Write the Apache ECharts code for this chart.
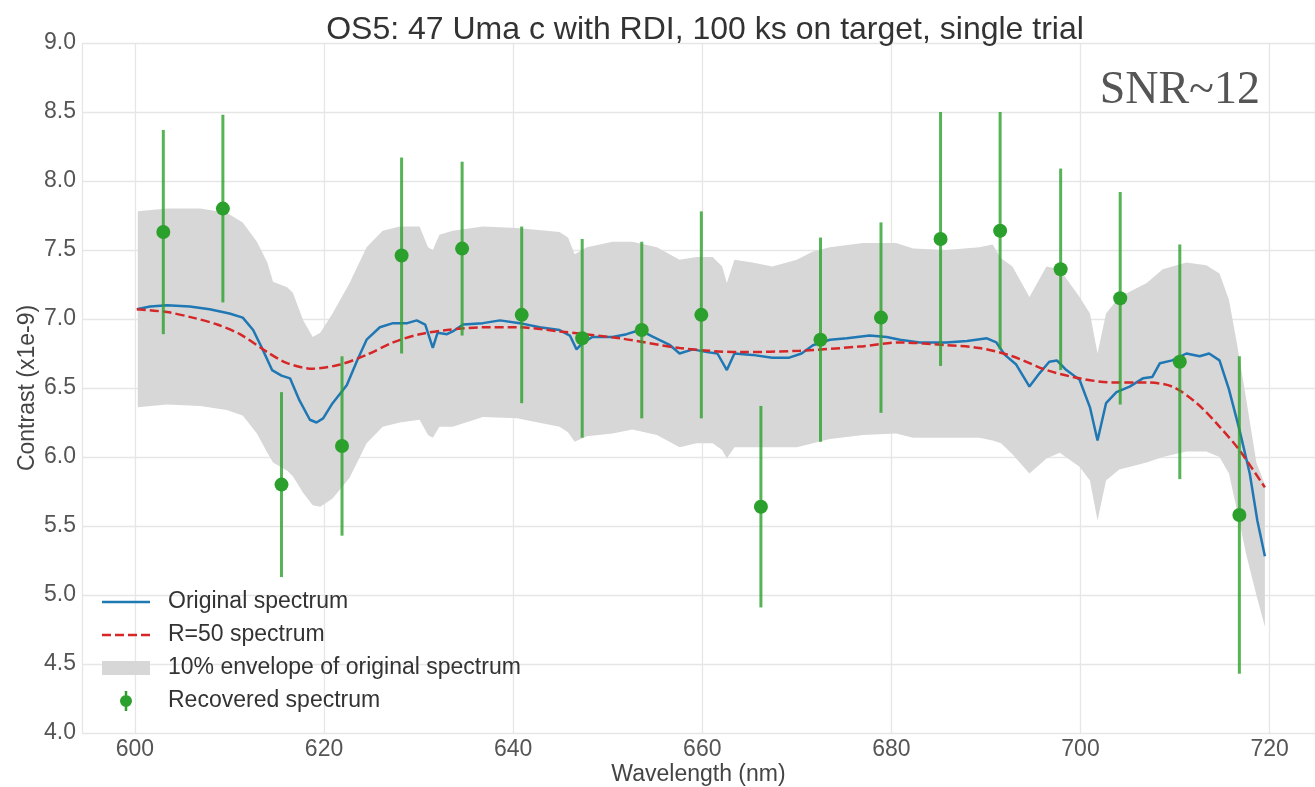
<!DOCTYPE html>
<html>
<head>
<meta charset="utf-8">
<title>OS5: 47 Uma c with RDI</title>
<script src="https://cdn.jsdelivr.net/npm/echarts@6/dist/echarts.min.js"></script>
<style>
  html, body { margin: 0; padding: 0; background: #fff; }
  #main { width: 1315px; height: 787px; }
</style>
</head>
<body>
<div id="main"></div>
<script>
// original spectrum (blue)
var origX = [600.2, 601.6, 603.4, 605.8, 607.9, 610.0, 611.4, 612.5, 613.5, 614.5, 615.5, 616.4, 617.4, 618.5, 619.2, 619.9, 620.9, 622.4, 623.5, 624.5,
  625.9, 627.3, 628.8, 629.8, 630.7, 631.5, 632.0, 633.0, 633.6, 634.7, 636.8, 638.6, 640.7, 642.8, 644.9, 646.0, 646.7, 647.4, 648.4, 650.5,
  652.0, 653.4, 654.8, 656.6, 657.6, 659.0, 660.5, 661.6, 662.6, 663.4, 665.3, 667.4, 669.2, 670.5, 671.7, 673.5, 675.3, 677.7, 679.5, 680.9,
  683.0, 685.8, 688.0, 690.1, 691.1, 692.0, 693.2, 694.6, 695.7, 696.7, 697.5, 698.5, 699.9, 701.0, 701.8, 702.7, 703.8, 705.2, 706.6, 707.6,
  708.4, 709.7, 711.2, 712.6, 713.6, 714.7, 715.7, 716.8, 717.9, 718.7, 719.5];
var origY = [7.07, 7.09, 7.10, 7.09, 7.07, 7.04, 7.01, 6.92, 6.78, 6.63, 6.59, 6.57, 6.41, 6.27, 6.25, 6.28, 6.39, 6.52, 6.70, 6.85,
  6.94, 6.97, 6.97, 6.99, 6.96, 6.79, 6.90, 6.89, 6.91, 6.96, 6.97, 6.99, 6.97, 6.94, 6.92, 6.88, 6.78, 6.83, 6.87, 6.87,
  6.89, 6.92, 6.87, 6.81, 6.75, 6.78, 6.76, 6.75, 6.63, 6.75, 6.74, 6.72, 6.72, 6.75, 6.81, 6.85, 6.86, 6.88, 6.87, 6.85,
  6.83, 6.83, 6.84, 6.86, 6.83, 6.74, 6.67, 6.51, 6.61, 6.69, 6.70, 6.63, 6.56, 6.36, 6.12, 6.39, 6.47, 6.51, 6.57, 6.58,
  6.68, 6.70, 6.75, 6.73, 6.75, 6.70, 6.49, 6.20, 5.88, 5.54, 5.28];

// R=50 spectrum (red dashed)
var r50X = [600.2, 603.4, 606.1, 608.7, 611.1, 614.0, 616.1, 618.8, 621.7, 624.5, 627.3, 630.1, 633.0, 636.8, 640.4, 644.9, 651.3,
  657.6, 664.0, 670.3, 676.6, 680.9, 685.8, 689.3, 692.8, 696.4, 699.9, 703.4, 707.0, 709.7, 712.3, 714.7, 716.8, 719.2, 719.5];
var r50Y = [7.07, 7.05, 7.01, 6.96, 6.89, 6.76, 6.68, 6.64, 6.67, 6.74, 6.83, 6.89, 6.92, 6.94, 6.94, 6.91, 6.86,
  6.79, 6.76, 6.77, 6.80, 6.83, 6.81, 6.79, 6.73, 6.63, 6.57, 6.54, 6.54, 6.51, 6.39, 6.22, 6.05, 5.81, 5.78];

// 10% envelope (gray band)
var envX = [600.3, 603.4, 606.9, 609.7, 611.4, 612.9, 614.0, 614.6, 616.1, 616.7, 617.8, 618.8, 619.6, 620.9, 622.7, 624.5, 626.2, 628.0,
  630.1, 631.0, 631.5, 632.2, 633.6, 636.8, 640.4, 644.9, 645.8, 646.5, 647.8, 650.5, 652.6, 655.2, 657.6, 659.4, 661.1, 662.1, 662.6,
  663.4, 665.3, 667.4, 670.0, 671.7, 673.5, 677.0, 680.5, 682.3, 685.8, 689.3, 690.7, 691.6, 692.8, 694.6, 696.4, 697.8, 699.9, 701.0,
  701.8, 702.7, 704.1, 707.0, 708.7, 711.2, 713.3, 714.7, 715.7, 716.6, 717.5, 718.6, 719.5];
var envHi = [7.78, 7.80, 7.80, 7.77, 7.70, 7.56, 7.41, 7.27, 7.23, 7.19, 6.99, 6.87, 6.90, 7.04, 7.26, 7.52, 7.64, 7.67,
  7.67, 7.52, 7.50, 7.61, 7.64, 7.67, 7.66, 7.63, 7.59, 7.47, 7.52, 7.56, 7.56, 7.52, 7.43, 7.45, 7.45, 7.38, 7.26,
  7.43, 7.41, 7.38, 7.43, 7.49, 7.52, 7.55, 7.55, 7.51, 7.50, 7.52, 7.54, 7.44, 7.38, 7.16, 7.38, 7.36, 7.16, 7.04,
  6.75, 7.04, 7.16, 7.26, 7.36, 7.41, 7.39, 7.33, 7.14, 6.80, 6.43, 5.96, 5.80];
var envLo = [6.36, 6.38, 6.37, 6.34, 6.30, 6.17, 6.03, 5.96, 5.90, 5.86, 5.74, 5.65, 5.64, 5.70, 5.85, 6.10, 6.22, 6.25,
  6.27, 6.16, 6.14, 6.22, 6.22, 6.29, 6.28, 6.22, 6.18, 6.11, 6.15, 6.17, 6.20, 6.16, 6.07, 6.10, 6.10, 6.05, 5.99,
  6.07, 6.07, 6.07, 6.07, 6.10, 6.13, 6.16, 6.17, 6.14, 6.14, 6.14, 6.12, 6.10, 6.02, 5.88, 5.99, 6.03, 5.93, 5.83,
  5.54, 5.83, 5.91, 5.96, 6.00, 6.04, 6.04, 6.00, 5.88, 5.60, 5.30, 5.00, 4.77];

// recovered spectrum with error bars
var recX = [603.0, 609.3, 615.5, 621.9, 628.2, 634.6, 640.9, 647.3, 653.6, 659.9, 666.2, 672.5, 678.9, 685.2, 691.5, 697.9, 704.2, 710.5, 716.8];
var recY = [7.63, 7.80, 5.80, 6.08, 7.46, 7.51, 7.03, 6.86, 6.92, 7.03, 5.64, 6.85, 7.01, 7.58, 7.64, 7.36, 7.15, 6.69, 5.58];
var recErr = [0.74, 0.68, 0.67, 0.65, 0.71, 0.63, 0.64, 0.72, 0.64, 0.75, 0.73, 0.74, 0.69, 0.92, 0.86, 0.73, 0.77, 0.85, 1.15];

var legendNames = ['Original spectrum', 'R=50 spectrum', '10% envelope of original spectrum', 'Recovered spectrum'];

var FONT = '"Liberation Sans", Arial, sans-serif';
var BLUE = '#1f77b4', RED = '#d62728', GREEN = '#2ca02c', GRAY = '#d7d7d7';

// legend icons drawn in a 61x24 box (M0,0 / M61,24 keep the box)
var BOX = 'M0,0M61,24';
var iconLine = 'path://' + BOX + 'M0,10.75H48V13.25H0Z';
var iconDash = 'path://' + BOX + 'M0,10.75h9v2.5h-9zM13,10.75h9v2.5h-9zM26,10.75h9v2.5h-9zM39,10.75h9v2.5h-9z';
var iconBand = 'path://' + BOX + 'M0,5H48V19H0Z';
var iconErr = 'path://' + BOX + 'M22.75,2H25.25V22H22.75ZM24,6A6,6,0,1,1,23.99,6Z';

var chart = echarts.init(document.getElementById('main'), null, { renderer: 'canvas' });

chart.setOption({
  animation: false,
  backgroundColor: '#fff',
  textStyle: { fontFamily: FONT },
  title: {
    text: 'OS5: 47 Uma c with RDI, 100 ks on target, single trial',
    left: 700,
    textAlign: 'center',
    top: 9,
    textStyle: { fontFamily: FONT, fontSize: 32, fontWeight: 'normal', color: '#333' }
  },
  graphic: [{
    type: 'text',
    right: 55,
    top: 68,
    style: { text: 'SNR~12', font: '46px "Liberation Serif", "Times New Roman", serif', fill: '#555' }
  }],
  legend: {
    left: 102,
    top: 590,
    orient: 'vertical',
    padding: 0,
    itemWidth: 61,
    itemHeight: 24,
    itemGap: 9,
    selectedMode: false,
    itemStyle: { borderWidth: 0 },
    textStyle: { fontFamily: FONT, fontSize: 23, color: '#333' },
    data: [
      { name: legendNames[0], icon: iconLine },
      { name: legendNames[1], icon: iconDash },
      { name: legendNames[2], icon: iconBand },
      { name: legendNames[3], icon: iconErr }
    ]
  },
  grid: { left: 82, right: 0, top: 43, bottom: 54, containLabel: false, outerBoundsMode: 'none' },
  xAxis: {
    type: 'value',
    min: 594.4,
    max: 724.8,
    splitNumber: 6,
    minInterval: 20,
    maxInterval: 20,
    name: 'Wavelength (nm)',
    nameLocation: 'middle',
    nameGap: 30,
    nameMoveOverlap: false,
    nameTextStyle: { fontFamily: FONT, fontSize: 23, color: '#444' },
    axisLine: { show: false },
    axisTick: { show: false },
    axisLabel: {
      fontFamily: FONT, fontSize: 23, color: '#555', margin: 5,
      showMinLabel: false, showMaxLabel: false,
      formatter: function (v) { return v % 20 === 0 ? String(v) : ''; }
    },
    splitLine: { show: true, lineStyle: { color: '#e6e6e6', width: 1.3 } }
  },
  yAxis: {
    type: 'value',
    min: 4,
    max: 9,
    interval: 0.5,
    name: 'Contrast (x1e-9)',
    nameLocation: 'middle',
    nameGap: 43,
    nameMoveOverlap: false,
    nameTextStyle: { fontFamily: FONT, fontSize: 23, color: '#444' },
    axisLine: { show: false },
    axisTick: { show: false },
    axisLabel: {
      fontFamily: FONT, fontSize: 23, color: '#555', margin: 6,
      formatter: function (v) { return v.toFixed(1); }
    },
    splitLine: { show: true, lineStyle: { color: '#e6e6e6', width: 1.3 } }
  },
  series: [
    {
      name: legendNames[2],
      type: 'custom',
      z: 1,
      itemStyle: { color: GRAY },
      data: [[envX[0], envLo[0]]],
      renderItem: function (params, api) {
        var pts = [];
        for (var i = 0; i < envX.length; i++) pts.push(api.coord([envX[i], envHi[i]]));
        for (var j = envX.length - 1; j >= 0; j--) pts.push(api.coord([envX[j], envLo[j]]));
        return { type: 'polygon', shape: { points: pts }, style: { fill: GRAY }, silent: true };
      }
    },
    {
      name: legendNames[0],
      type: 'line',
      z: 3,
      symbol: 'none',
      showSymbol: false,
      color: BLUE,
      lineStyle: { color: BLUE, width: 2.5 },
      data: origX.map(function (x, i) { return [x, origY[i]]; })
    },
    {
      name: legendNames[1],
      type: 'line',
      z: 4,
      symbol: 'none',
      showSymbol: false,
      smooth: 0.3,
      color: RED,
      lineStyle: { color: RED, width: 2.5, type: [9, 4] },
      data: r50X.map(function (x, i) { return [x, r50Y[i]]; })
    },
    {
      name: 'errorbars',
      type: 'custom',
      z: 5,
      data: recX.map(function (x, i) { return [x, recY[i], recErr[i]]; }),
      encode: { x: 0, y: 1 },
      renderItem: function (params, api) {
        var x = api.value(0), y = api.value(1), e = api.value(2);
        var p1 = api.coord([x, y - e]);
        var p2 = api.coord([x, y + e]);
        return {
          type: 'line',
          shape: { x1: p1[0], y1: p1[1], x2: p2[0], y2: p2[1] },
          style: { stroke: GREEN, lineWidth: 3, opacity: 0.8 },
          silent: true
        };
      }
    },
    {
      name: legendNames[3],
      type: 'scatter',
      z: 6,
      symbol: 'circle',
      symbolSize: 14,
      color: GREEN,
      itemStyle: { color: GREEN, opacity: 1 },
      data: recX.map(function (x, i) { return [x, recY[i]]; })
    }
  ]
});
</script>
</body>
</html>
